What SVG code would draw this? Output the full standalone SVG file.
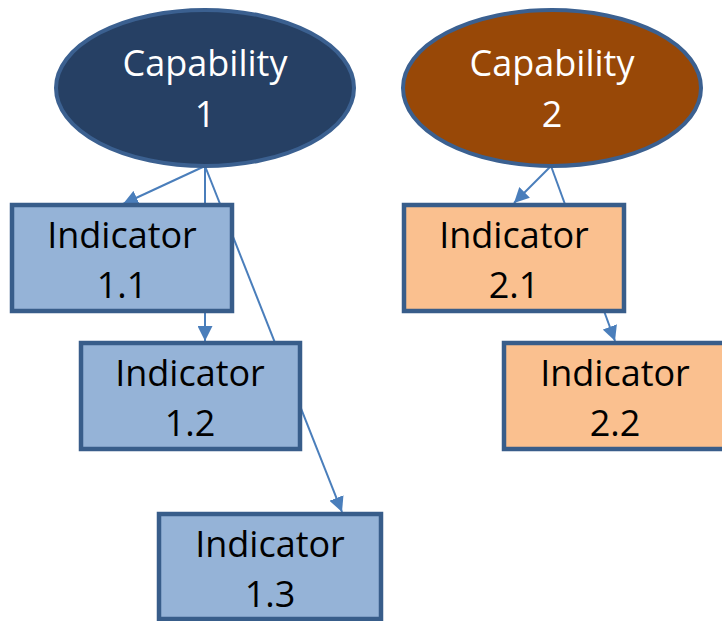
<svg xmlns="http://www.w3.org/2000/svg" width="722" height="621" viewBox="0 0 722 621">
<defs>
<style>
.lnk{stroke:#4a7ebb;stroke-width:2;fill:none;marker-end:url(#ah)}
.cap{stroke:#3b6090;stroke-width:4}
.box{stroke:#385d8a;stroke-width:4.5}
.blue{fill:#95b3d7}
.orange{fill:#fac08f}
text{font-family:"Open Sans","Noto Sans","Liberation Sans",sans-serif;font-size:36px;text-anchor:middle}
.w{fill:#ffffff}
.k{fill:#000000}
</style>
<marker id="ah" viewBox="0 0 10 10" refX="10" refY="5" markerWidth="7.5" markerHeight="7.5" markerUnits="strokeWidth" orient="auto">
<path d="M0,0 L10,5 L0,10 z" fill="#4a7ebb"/>
</marker>
</defs>
<rect width="722" height="621" fill="#ffffff"/>
<g id="connectors">
<line class="lnk" x1="205" y1="166" x2="123" y2="204"/>
<line class="lnk" x1="205" y1="166" x2="205" y2="341"/>
<line class="lnk" x1="205" y1="166" x2="342" y2="512"/>
<line class="lnk" x1="551" y1="166" x2="514" y2="203"/>
<line class="lnk" x1="551" y1="166" x2="615" y2="341"/>
</g>
<g id="capability1">
<ellipse class="cap" cx="205" cy="88" rx="149" ry="78" fill="#264064"/>
<text class="w" x="205" y="76">Capability</text>
<text class="w" x="205" y="127">1</text>
</g>
<g id="capability2">
<ellipse class="cap" cx="552" cy="88" rx="149" ry="78" fill="#984807"/>
<text class="w" x="552" y="76">Capability</text>
<text class="w" x="552" y="127">2</text>
</g>
<g id="indicator11">
<rect class="box blue" x="12" y="205" width="220" height="106"/>
<text class="k" x="122" y="248">Indicator</text>
<text class="k" x="122" y="298">1.1</text>
</g>
<g id="indicator12">
<rect class="box blue" x="81" y="343" width="219" height="106"/>
<text class="k" x="190" y="386">Indicator</text>
<text class="k" x="190" y="436">1.2</text>
</g>
<g id="indicator13">
<rect class="box blue" x="159" y="514" width="222" height="105"/>
<text class="k" x="270" y="557">Indicator</text>
<text class="k" x="270" y="607">1.3</text>
</g>
<g id="indicator21">
<rect class="box orange" x="404" y="205" width="220" height="106"/>
<text class="k" x="514" y="248">Indicator</text>
<text class="k" x="514" y="298">2.1</text>
</g>
<g id="indicator22">
<rect class="box orange" x="504" y="343" width="224" height="106"/>
<text class="k" x="615" y="386">Indicator</text>
<text class="k" x="615" y="436">2.2</text>
</g>
</svg>
